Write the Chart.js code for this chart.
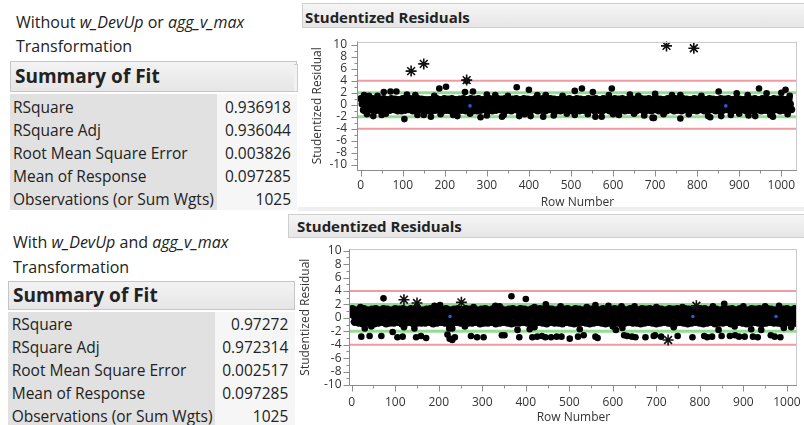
<!DOCTYPE html>
<html><head><meta charset="utf-8">
<script src="https://cdn.jsdelivr.net/npm/chart.js@4.4.1/dist/chart.umd.min.js"></script>
<style>
body{margin:0;background:#fff}
#root{position:relative;width:804px;height:425px;overflow:hidden;background:#fff;font-family:'Open Sans',sans-serif;color:#222}
.cap{position:absolute;white-space:nowrap;font-size:16px;line-height:20px}
.sum{position:absolute;box-sizing:border-box;border:1px solid #c6c6c6;background:linear-gradient(#f3f3f3,#e6e6e6);font-weight:bold;font-size:19px;padding-left:4px;white-space:nowrap}
.tbl{position:absolute;background:#f6f6f6}
.tbl .lc{position:absolute;left:0;top:0;bottom:0;background:#e1e1e1}
.row{position:relative;height:22.9px;font-size:15.5px;line-height:22.9px;white-space:nowrap}
.row .v{position:absolute;top:0}
.hdr{position:absolute;box-sizing:border-box;border:1px solid #cfcfcf;background:linear-gradient(#f5f5f5,#e6e6e6);font-weight:bold;font-size:15px;white-space:nowrap}
canvas{position:absolute}
</style></head>
<body>
<div id="root">
  <div class="cap" style="left:16px;top:11.7px">Without <i>w_DevUp</i> or <i>agg_v_max</i></div>
  <div class="cap" style="left:16px;top:36px">Transformation</div>
  <div class="sum" style="left:10px;top:61px;width:287px;height:31px;line-height:29px">Summary of Fit</div>
  <div class="tbl" id="tblTop" style="left:10px;top:94px;width:287px;height:116px"></div>

  <div class="cap" style="left:13px;top:231.7px">With <i>w_DevUp</i> and <i>agg_v_max</i></div>
  <div class="cap" style="left:13px;top:256.7px">Transformation</div>
  <div class="sum" style="left:8px;top:281px;width:287px;height:28.5px;line-height:26.5px">Summary of Fit</div>
  <div class="tbl" id="tblBot" style="left:8px;top:311.7px;width:287px;height:113.3px"></div>

  <div style="position:absolute;left:294px;top:64px;width:3px;height:26px;border:1px solid #cdcdcd;border-left:none;background:#f2f2f2"></div>
  <div style="position:absolute;left:298px;top:207px;width:506px;height:4px;background:#efefef"></div>
  <div class="hdr" style="left:302px;top:3px;width:504px;height:25px;line-height:26px;padding-left:2px">Studentized Residuals</div>
  <div class="hdr" style="left:288px;top:214px;width:518px;height:24px;line-height:22px;padding-left:8px">Studentized Residuals</div>

  <canvas id="cTop" width="506" height="180" style="left:298px;top:30px"></canvas>
  <canvas id="cBot" width="514" height="185" style="left:290px;top:240px"></canvas>
</div>
<script>
// ---------------- DATA ----------------
const fitLabels = ['RSquare','RSquare Adj','Root Mean Square Error','Mean of Response','Observations (or Sum Wgts)'];
const topFitValues = ['0.936918','0.936044','0.003826','0.097285','1025'];
const bottomFitValues = ['0.97272','0.972314','0.002517','0.097285','1025'];

const xTickLabels = [0,100,200,300,400,500,600,700,800,900,1000];
const yTickLabels = [-10,-8,-6,-4,-2,0,2,4,6,8,10];
const redLevels = [4,-4];
const greenLevels = [2,-2];

// studentized residuals inside the dense (solid) band, one estimate for every 3rd row (rows 1,4,7,...)
const ROW_STEP = 3;
const topBandVals = [
 1.0,0.1,-0.9, 0.8,0.0,-1.0, 0.9,-0.1,-0.8, 1.0,0.0,-1.0, 0.8,0.1,-0.9, 0.9,0.0,-0.8,
 1.0,-0.1,-1.0, 0.8,0.0,-0.9, 1.0,0.1,-0.8, 0.9,0.0,-1.0, 0.8,-0.1,-1.0, 1.0,0.1,-0.9,
 0.9,0.0,-0.8, 1.0,0.1,-1.0, 0.8,-0.1,-0.9, 1.0,0.0,-0.8, 0.9,0.1,-1.0, 0.8,0.0,-1.0,
 0.8,0.1,-1.0, 0.9,-0.1,-0.9, 1.0,0.0,-0.8, 0.8,0.1,-1.0, 1.0,-0.1,-0.9, 0.9,0.0,-1.0,
 1.0,0.0,-0.8, 0.8,-0.1,-1.0, 0.9,0.1,-0.9, 1.0,0.0,-1.0, 0.8,0.1,-0.8, 1.0,-0.1,-1.0,
 0.9,0.1,-1.0, 1.0,0.0,-0.9, 0.8,-0.1,-0.8, 0.9,0.0,-1.0, 1.0,0.1,-1.0, 0.8,0.0,-0.9,
 1.0,-0.1,-0.8, 0.9,0.1,-1.0, 1.0,0.0,-0.9, 0.8,-0.1,-1.0, 0.9,0.0,-0.8, 1.0,0.1,-1.0,
 0.8,0.0,-1.0, 1.0,0.1,-0.9, 0.9,-0.1,-1.0, 0.8,0.0,-0.8, 1.0,0.1,-1.0, 0.9,-0.1,-0.9,
 1.0,0.1,-1.0, 0.8,-0.1,-0.8, 1.0,0.0,-0.9, 0.9,0.1,-1.0, 0.8,0.0,-1.0, 1.0,-0.1,-0.8,
 0.9,0.0,-0.9, 1.0,0.1,-1.0, 0.8,0.0,-0.8, 1.0,-0.1,-1.0, 0.9,0.1,-0.9, 0.8,0.0,-1.0,
 1.0,0.1,-0.8, 0.9,0.0,-1.0, 1.0,-0.1,-0.9, 0.8,0.1,-1.0, 1.0,0.0,-0.8, 0.9,-0.1,-1.0,
 0.8,0.0,-0.9, 1.0,0.1,-1.0, 0.9,0.0,-0.8, 1.0,-0.1,-1.0, 0.8,0.1,-0.9, 1.0,0.0,-1.0,
 0.9,-0.1,-1.0, 0.8,0.1,-0.8, 1.0,0.0,-1.0, 0.9,0.1,-0.9, 1.0,-0.1,-1.0, 0.8,0.0,-0.8,
 1.0,0.0,-1.0, 0.9,0.1,-0.9, 0.8,-0.1,-1.0, 1.0,0.0,-0.8, 0.9,0.1,-1.0, 1.0,-0.1,-0.9,
 0.8,0.1,-1.0, 1.0,0.0,-0.8, 0.9,-0.1,-1.0, 0.8,0.0,-0.9, 1.0,0.1,-1.0, 0.9,0.0,-0.8,
 1.0,-0.1,-1.0, 0.8,0.0,-0.9, 1.0,0.1,-0.8, 0.9,-0.1,-1.0, 0.8,0.0,-1.0, 1.0,0.1,-0.9,
 0.9,0.0,-0.8, 1.0,-0.1,-1.0, 0.8,0.1,-0.9, 1.0,0.0,-1.0, 0.9,-0.1,-0.8, 0.8,0.1,-1.0,
 1.0,0.0,-0.9, 0.9,0.1,-1.0, 1.0,-0.1,-0.8, 0.8,0.0,-1.0, 1.0,0.1,-0.9, 0.9,0.0,-1.0,
 0.8,-0.1,-1.0, 1.0,0.0,-0.8, 0.9,0.1,-1.0, 1.0,0.0,-0.9, 0.8,-0.1,-1.0, 1.0,0.1,-0.8
];
const bottomBandVals = [
 1.3,0.4,-0.6, 1.1,0.3,-0.7, 1.2,0.2,-0.8, 1.3,0.3,-0.7, 1.1,0.4,-0.6, 1.2,0.3,-0.8,
 1.3,0.2,-0.7, 1.1,0.3,-0.6, 1.3,0.4,-0.8, 1.2,0.3,-0.7, 1.1,0.2,-0.7, 1.3,0.4,-0.6,
 1.2,0.3,-0.8, 1.3,0.4,-0.7, 1.1,0.2,-0.6, 1.3,0.3,-0.8, 1.2,0.4,-0.7, 1.1,0.3,-0.7,
 1.1,0.4,-0.7, 1.2,0.2,-0.6, 1.3,0.3,-0.8, 1.1,0.4,-0.7, 1.3,0.2,-0.6, 1.2,0.3,-0.7,
 1.3,0.3,-0.8, 1.1,0.2,-0.7, 1.2,0.4,-0.6, 1.3,0.3,-0.7, 1.1,0.4,-0.8, 1.3,0.2,-0.7,
 1.2,0.4,-0.7, 1.3,0.3,-0.6, 1.1,0.2,-0.8, 1.2,0.3,-0.7, 1.3,0.4,-0.7, 1.1,0.3,-0.6,
 1.3,0.2,-0.8, 1.2,0.4,-0.7, 1.3,0.3,-0.6, 1.1,0.2,-0.7, 1.2,0.3,-0.8, 1.3,0.4,-0.7,
 1.1,0.3,-0.7, 1.3,0.4,-0.6, 1.2,0.2,-0.7, 1.1,0.3,-0.8, 1.3,0.4,-0.7, 1.2,0.2,-0.6,
 1.3,0.4,-0.7, 1.1,0.2,-0.8, 1.3,0.3,-0.6, 1.2,0.4,-0.7, 1.1,0.3,-0.7, 1.3,0.2,-0.8,
 1.2,0.3,-0.6, 1.3,0.4,-0.7, 1.1,0.3,-0.8, 1.3,0.2,-0.7, 1.2,0.4,-0.6, 1.1,0.3,-0.7,
 1.3,0.4,-0.8, 1.2,0.3,-0.7, 1.3,0.2,-0.6, 1.1,0.4,-0.7, 1.3,0.3,-0.8, 1.2,0.2,-0.7,
 1.1,0.3,-0.6, 1.3,0.4,-0.7, 1.2,0.3,-0.8, 1.3,0.2,-0.7, 1.1,0.4,-0.6, 1.3,0.3,-0.7,
 1.2,0.2,-0.7, 1.1,0.4,-0.8, 1.3,0.3,-0.7, 1.2,0.4,-0.6, 1.3,0.2,-0.7, 1.1,0.3,-0.8,
 1.3,0.3,-0.7, 1.2,0.4,-0.6, 1.1,0.2,-0.7, 1.3,0.3,-0.8, 1.2,0.4,-0.7, 1.3,0.2,-0.6,
 1.1,0.4,-0.7, 1.3,0.3,-0.8, 1.2,0.2,-0.7, 1.1,0.3,-0.6, 1.3,0.4,-0.7, 1.2,0.3,-0.8,
 1.3,0.2,-0.7, 1.1,0.3,-0.6, 1.3,0.4,-0.8, 1.2,0.2,-0.7, 1.1,0.3,-0.7, 1.3,0.4,-0.6,
 1.2,0.3,-0.8, 1.3,0.2,-0.7, 1.1,0.4,-0.6, 1.3,0.3,-0.7, 1.2,0.2,-0.8, 1.1,0.4,-0.7,
 1.3,0.3,-0.6, 1.2,0.4,-0.7, 1.3,0.2,-0.8, 1.1,0.3,-0.7, 1.3,0.4,-0.6, 1.2,0.3,-0.7,
 1.1,0.2,-0.7, 1.3,0.3,-0.8, 1.2,0.4,-0.7, 1.3,0.3,-0.6, 1.1,0.2,-0.7, 1.3,0.4,-0.8
];

// individually visible points outside / on the edge of the dense band
const topHighRows = [8,20,40,55,71,85,110,130,175,187,203,248,252,267,300,320,350,371,400,420,440,480,509,526,552,590,597,640,660,700,740,760,810,851,894,920,947,965,1000,1010,1020];
const topHighVals = [1.6,1.5,1.5,2.1,2.2,2.2,1.7,1.6,1.5,2.7,3.0,2.1,4.0,2.2,1.7,1.6,1.5,2.9,2.5,1.6,1.6,1.5,2.3,2.7,2.1,1.6,2.7,1.7,1.5,1.8,1.6,1.6,1.5,2.2,1.9,1.6,2.7,1.9,2.0,2.5,1.5];
const topLowRows = [15,30,50,60,104,135,150,167,190,220,230,260,285,300,336,340,377,390,404,434,459,490,509,540,558,573,600,614,650,674,694,697,720,760,780,826,831,857,880,900,922,938,974,980,1015];
const topLowVals = [-1.6,-1.9,-1.7,-1.5,-2.4,-1.7,-1.7,-2.0,-1.6,-1.7,-1.9,-1.5,-2.1,-1.8,-2.0,-1.7,-1.9,-1.6,-1.9,-2.0,-1.8,-1.5,-1.7,-1.6,-2.0,-2.0,-1.6,-1.7,-1.5,-1.8,-2.2,-2.2,-1.6,-2.3,-1.6,-1.9,-2.1,-1.9,-1.7,-1.5,-1.8,-1.9,-1.7,-2.0,-1.6];
const topStarRows = [120,150,252,727,792];
const topStarVals = [5.6,6.8,4.1,9.8,9.4];
const topBlueRows = [260,868];
const topBlueVals = [-0.2,-0.2];

const bottomHighRows = [20,73,150,190,203,280,330,340,367,400,420,446,480,540,560,590,620,650,700,760,830,856,900,950,982];
const bottomHighVals = [1.6,2.9,1.7,1.8,1.9,1.6,1.8,1.7,3.2,2.8,1.6,2.0,1.7,1.6,1.9,1.8,1.7,1.7,1.6,1.6,1.7,2.1,1.7,1.7,1.8];
const bottomLowRows = [22,30,41,68,94,105,117,144,148,159,171,220,224,225,231,231,237,274,288,303,345,351,381,385,409,415,426,437,445,458,471,482,501,520,524,533,560,565,607,622,626,633,644,652,675,694,697,711,749,783,810,817,828,843,850,869,881,890,903,918,922,933,941,963,972,985,993,45,120,260,420,600,740,880,1010];
const bottomLowVals = [-2.8,-1.6,-2.7,-2.7,-2.1,-2.9,-2.8,-1.6,-2.9,-2.7,-3.0,-2.5,-1.6,-3.1,-1.6,-3.3,-2.9,-2.7,-2.9,-2.9,-2.6,-2.6,-1.8,-2.9,-1.7,-2.9,-2.8,-2.7,-2.9,-2.9,-2.8,-2.8,-3.1,-2.8,-1.7,-2.6,-2.8,-3.0,-1.8,-1.5,-2.6,-2.7,-2.8,-2.9,-2.9,-2.7,-2.6,-2.8,-2.7,-2.9,-2.7,-2.9,-2.8,-1.8,-2.7,-2.7,-2.6,-2.8,-2.8,-1.7,-2.8,-2.9,-1.8,-2.6,-2.8,-2.9,-1.5,-1.3,-1.4,-1.3,-1.4,-1.3,-1.4,-1.3,-1.4];
const bottomStarRows = [120,150,252,727,792];
const bottomStarVals = [2.7,2.2,2.3,-3.3,1.8];
const bottomBlueRows = [226,784,975];
const bottomBlueVals = [0.2,0.2,0.2];

// ---------------- TABLES ----------------
function buildTable(id, values, leftW, padTop, padL, padR) {
  const el = document.getElementById(id);
  let html = '<div class="lc" style="width:' + leftW + 'px"></div><div style="position:relative;padding-top:' + padTop + 'px">';
  fitLabels.forEach((lab, i) => {
    html += '<div class="row"><span style="position:absolute;left:' + padL + 'px">' + lab + '</span>' +
            '<span class="v" style="right:' + padR + 'px">' + values[i] + '</span></div>';
  });
  el.innerHTML = html + '</div>';
}
buildTable('tblTop', topFitValues, 207, 2, 3, 6);
buildTable('tblBot', bottomFitValues, 207, 1.8, 3.7, 6.7);

// ---------------- CHARTS ----------------
const FONT = {family: "'Open Sans', sans-serif", size: 12};
const TXT = '#333';
function bandPoints(vals) { return vals.map((v, i) => ({x: 1 + ROW_STEP * i, y: v})); }
function pairs(rows, vals) { return rows.map((r, i) => ({x: r, y: vals[i]})); }
function mids(arr) { const m = []; for (let i = 0; i < arr.length - 1; i++) m.push((arr[i] + arr[i + 1]) / 2); return m; }

function refPlugin() {
  return {
    id: 'refLines',
    beforeDatasetsDraw(chart) {
      const {ctx, chartArea: a, scales: {y}} = chart;
      ctx.save();
      ctx.beginPath(); ctx.rect(a.left, a.top, a.right - a.left, a.bottom - a.top); ctx.clip();
      const draw = (lv, color, w) => {
        const py = y.getPixelForValue(lv);
        ctx.strokeStyle = color; ctx.lineWidth = w;
        ctx.beginPath(); ctx.moveTo(a.left, py); ctx.lineTo(a.right, py); ctx.stroke();
      };
      redLevels.forEach(l => draw(l, '#f29aa2', 2));
      greenLevels.forEach(l => draw(l, '#94dc94', 3));
      ctx.restore();
    },
    afterDraw(chart) {
      const {ctx, chartArea: a, scales: {x, y}} = chart;
      ctx.save();
      ctx.lineWidth = 1;
      ctx.strokeStyle = '#cacaca';
      ctx.beginPath();
      ctx.moveTo(a.left, Math.round(a.top) + 0.5); ctx.lineTo(a.right, Math.round(a.top) + 0.5);
      ctx.moveTo(Math.round(a.right) - 0.5, a.top); ctx.lineTo(Math.round(a.right) - 0.5, a.bottom);
      ctx.stroke();
      ctx.strokeStyle = '#8c8c8c';
      const L = Math.round(a.left) - 0.5, B = Math.round(a.bottom) + 0.5;
      ctx.beginPath();
      ctx.moveTo(L, a.top); ctx.lineTo(L, B);
      ctx.moveTo(L, B); ctx.lineTo(a.right, B);
      xTickLabels.forEach(v => { const p = Math.round(x.getPixelForValue(v)) + 0.5; ctx.moveTo(p, B); ctx.lineTo(p, B + 6); });
      mids(xTickLabels).forEach(v => { const p = Math.round(x.getPixelForValue(v)) + 0.5; ctx.moveTo(p, B); ctx.lineTo(p, B + 3); });
      yTickLabels.forEach(v => { const p = Math.round(y.getPixelForValue(v)) + 0.5; ctx.moveTo(L - 6, p); ctx.lineTo(L, p); });
      mids(yTickLabels).forEach(v => { const p = Math.round(y.getPixelForValue(v)) + 0.5; ctx.moveTo(L - 3, p); ctx.lineTo(L, p); });
      ctx.stroke();
      ctx.restore();
    }
  };
}

function makeChart(id, o) {
  const allX = xTickLabels.concat(mids(xTickLabels)).sort((a, b) => a - b);
  const allY = yTickLabels.concat(mids(yTickLabels)).sort((a, b) => a - b);
  return new Chart(document.getElementById(id), {
    type: 'scatter',
    data: {datasets: [
      {data: pairs(o.starRows, o.starVals), pointStyle: 'star', pointRadius: 5.5, borderColor: '#111', backgroundColor: '#111', borderWidth: 1.6},
      {data: pairs(o.blueRows, o.blueVals), pointRadius: 1.8, backgroundColor: '#2a5bd7', borderWidth: 0},
      {data: pairs(o.highRows.concat(o.lowRows), o.highVals.concat(o.lowVals)), pointRadius: 3.3, backgroundColor: '#000', borderWidth: 0},
      {data: bandPoints(o.band), pointRadius: o.bandRadius, backgroundColor: '#000', borderWidth: 0}
    ]},
    options: {
      responsive: false, animation: false, events: [],
      layout: {padding: {left: 0, top: o.padTop, right: o.padRight, bottom: 0}},
      plugins: {legend: {display: false}, tooltip: {enabled: false}},
      scales: {
        x: {
          type: 'linear', min: o.xMin, max: o.xMax,
          grid: {display: false, drawTicks: false}, border: {display: false},
          afterBuildTicks: s => { s.ticks = allX.map(v => ({value: v})); },
          ticks: {autoSkip: false, maxRotation: 0, padding: o.xTickPad, color: TXT, font: FONT,
                  callback: v => xTickLabels.includes(v) ? String(v) : ''},
          title: {display: true, text: 'Row Number', color: TXT, font: FONT, padding: {top: 0, bottom: o.xTitlePad}},
          afterFit: s => { s.height = 40; s.paddingLeft = 0; s.paddingRight = 0; }
        },
        y: {
          type: 'linear', min: o.yMin, max: o.yMax,
          grid: {display: false, drawTicks: false}, border: {display: false},
          afterBuildTicks: s => { s.ticks = allY.map(v => ({value: v})); },
          ticks: {autoSkip: false, padding: o.yTickPad, color: TXT, font: FONT,
                  callback: v => yTickLabels.includes(v) ? String(v) : ''},
          title: {display: true, text: 'Studentized Residual', color: TXT, font: FONT, padding: {top: o.yTitlePad, bottom: 0}},
          afterFit: s => { s.width = 60; s.paddingTop = 0; s.paddingBottom = 0; }
        }
      }
    },
    plugins: [refPlugin()]
  });
}

makeChart('cTop', {
  band: topBandVals, highRows: topHighRows, highVals: topHighVals, lowRows: topLowRows, lowVals: topLowVals,
  starRows: topStarRows, starVals: topStarVals, blueRows: topBlueRows, blueVals: topBlueVals, bandRadius: 3.8,
  xMin: -6.3, xMax: 1037, yMin: -10.88, yMax: 10.53,
  padTop: 11.5, padRight: 2, xTickPad: 8, xTitlePad: 0.5, yTickPad: 11, yTitlePad: 12
});
makeChart('cBot', {
  band: bottomBandVals, highRows: bottomHighRows, highVals: bottomHighVals, lowRows: bottomLowRows, lowVals: bottomLowVals,
  starRows: bottomStarRows, starVals: bottomStarVals, blueRows: bottomBlueRows, blueVals: bottomBlueVals, bandRadius: 4.2,
  xMin: -4, xMax: 1023, yMin: -10, yMax: 10.2,
  padTop: 9.3, padRight: 0, xTickPad: 10, xTitlePad: 0, yTickPad: 8.5, yTitlePad: 8
});
</script>
</body></html>
